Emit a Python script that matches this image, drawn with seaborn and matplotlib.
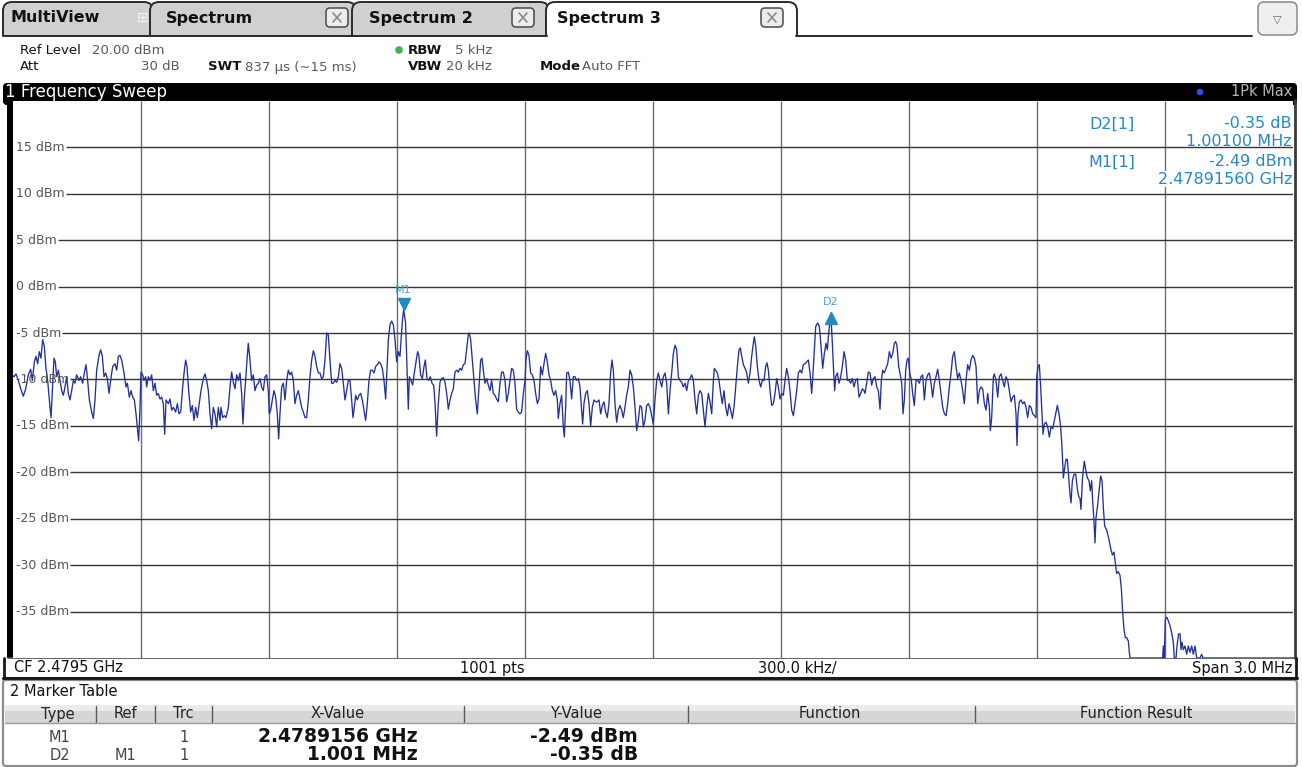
import matplotlib
matplotlib.use("Agg")
import matplotlib.pyplot as plt
import numpy as np
import pandas as pd
import seaborn as sns
from matplotlib.patches import FancyBboxPatch, Rectangle, Circle
from matplotlib.transforms import offset_copy
from matplotlib import font_manager as fm

# ---------------- data ----------------
# trace: (frequency offset from start in kHz, level in dBm), span 0..3000 kHz
seg_a = [(0.0,-9.6),(2.3,-9.7),(7.0,-9.4),(12.5,-10.1),(18.0,-11.0),(24.2,-11.8),(29.7,-11.0),(35.9,-9.5),(41.4,-8.9),(45.3,-10.1),(50.0,-8.1),(53.9,-7.5),(57.8,-8.3),(61.7,-7.0),(65.6,-7.7),(69.5,-5.7),(73.4,-6.4),(77.3,-8.8),(81.2,-10.1),(85.2,-12.2),(89.1,-14.1),(92.2,-11.2),(96.1,-7.7),(99.2,-8.1),(102.3,-9.7),(106.3,-9.0),(110.2,-10.1),(114.1,-11.2),(118.0,-11.7),(121.9,-10.8),(125.8,-9.7),(129.7,-11.5),(133.6,-12.2),(137.5,-11.2),(141.4,-10.1),(145.3,-10.4),(149.2,-9.5),(154.7,-10.1),(158.6,-9.7),(163.3,-10.4),(167.2,-9.3),(171.1,-8.4),(174.2,-9.7),(178.9,-12.2),(184.4,-13.5),(188.3,-14.2),(192.2,-12.2),(196.1,-9.0),(201.6,-7.4),(205.5,-6.8),(209.4,-7.5),(213.3,-9.7),(217.2,-9.3),(221.1,-9.9),(225.0,-11.5),(228.9,-10.1),(233.6,-8.6),(239.1,-8.3),(243.0,-9.0),(246.9,-7.5),(250.8,-7.4),(254.7,-7.9),(260.2,-9.3),(264.8,-10.8),(268.0,-10.4),(272.7,-11.9),(276.6,-11.2),(280.5,-11.9),(284.4,-12.2),(288.3,-13.7),(291.4,-15.1),(294.5,-16.6),(297.7,-13.0),(300.0,-9.2),(303.9,-9.5),(307.0,-10.1),(310.9,-9.7),(313.3,-10.8),(317.2,-9.7),(321.1,-10.1),(325.0,-9.5),(328.9,-11.2),(332.8,-10.4),(336.7,-11.7),(340.6,-11.5),(344.5,-12.1),(348.4,-11.9),(352.3,-12.6),(355.5,-15.9),(358.6,-12.2),(364.1,-12.6),(368.0,-12.1),(371.9,-13.3),(375.8,-13.0),(381.2,-13.5),(385.2,-12.6),(389.1,-13.7),(393.0,-13.5),(397.7,-10.8),(401.6,-9.0),(404.7,-7.9),(407.8,-8.6),(411.7,-11.2),(416.4,-13.5),(420.3,-12.8),(424.2,-14.4),(428.1,-13.0),(432.0,-14.1),(435.9,-12.8),(440.6,-11.2),(446.1,-9.9),(450.0,-9.4),(453.9,-10.1),(457.8,-11.2),(461.7,-13.7),(465.6,-15.3),(469.5,-13.0),(473.4,-13.7),(477.3,-15.1),(481.2,-13.0),(485.2,-14.4)]
seg_b = [(487.5,-13.0),(491.4,-14.1),(495.3,-13.9),(499.2,-14.1),(504.7,-13.0),(508.6,-10.8),(512.5,-9.2),(516.4,-10.3),(520.3,-11.0),(524.2,-9.5),(528.1,-10.1),(532.0,-9.3),(535.9,-11.5),(539.0,-14.8),(542.2,-11.9),(545.3,-10.1),(548.4,-7.9),(551.5,-6.1),(555.4,-7.9),(559.3,-10.1),(563.2,-9.5),(567.2,-11.2),(571.1,-10.6),(575.0,-10.4),(578.9,-9.9),(582.8,-10.8),(586.7,-11.2),(590.6,-9.7),(594.5,-9.5),(598.4,-11.2),(600.7,-13.7),(603.9,-13.3),(607.8,-12.2),(611.7,-11.2),(615.6,-11.9),(619.5,-13.7),(622.6,-16.4),(625.7,-13.7),(629.7,-10.8),(633.6,-10.4),(637.5,-12.2),(641.4,-10.1),(645.3,-9.0),(649.2,-9.5),(653.1,-9.2),(657.0,-10.1),(660.9,-12.6),(664.8,-11.7),(668.7,-11.2),(672.6,-12.1),(676.5,-13.0),(680.4,-13.5),(684.3,-14.1),(688.2,-14.1),(692.2,-12.2),(696.1,-9.7),(700.0,-7.9),(703.9,-6.9),(707.8,-7.5),(711.7,-8.6),(715.6,-9.3),(719.5,-9.3),(723.4,-9.9),(727.3,-9.7),(731.2,-7.9),(735.1,-5.0),(739.0,-5.2),(742.9,-7.9),(746.8,-10.4),(750.7,-10.4),(754.7,-10.1),(758.6,-10.3),(762.5,-9.7),(766.4,-8.3),(770.3,-8.8),(774.2,-10.4),(778.1,-12.2),(782.0,-11.2),(785.9,-10.1),(789.8,-10.1),(793.7,-12.2),(796.8,-14.1),(800.0,-13.0),(803.1,-11.7),(807.0,-12.2),(810.9,-11.7),(814.8,-11.5),(818.7,-12.2),(822.6,-13.3),(826.5,-14.4),(830.4,-12.6),(834.3,-10.1),(838.2,-9.0),(842.2,-9.0),(846.1,-9.3),(850.0,-8.6),(853.9,-8.4),(857.8,-8.1),(861.7,-8.3),(865.6,-8.8),(869.5,-10.1),(873.4,-12.1),(876.5,-9.0),(879.7,-5.7),(883.6,-4.1),(887.5,-3.7),(891.4,-4.1),(895.3,-5.7),(899.2,-8.1),(903.1,-7.0),(907.0,-7.5),(910.9,-4.8),(913.6,-3.2),(915.6,-2.49),(920.1,-3.9),(923.7,-9.0),(926.5,-13.2),(928.9,-9.7),(932.8,-10.1),(936.7,-10.6),(940.6,-9.3),(944.5,-8.1),(948.4,-7.0),(951.5,-7.5),(955.4,-9.5),(959.3,-9.9),(963.3,-8.6),(966.4,-7.9),(970.3,-9.9),(974.2,-10.1),(978.1,-9.7),(982.0,-10.4),(985.9,-10.6),(989.0,-12.4)]
seg_c = [(992.9,-16.1),(996.8,-12.6),(1000.7,-10.3),(1004.6,-9.9),(1008.5,-9.8),(1012.5,-10.3),(1016.4,-11.5),(1020.3,-13.2),(1024.2,-12.2),(1028.1,-11.5),(1032.0,-11.0),(1035.9,-9.2),(1039.8,-9.0),(1043.7,-9.2),(1047.6,-8.8),(1051.5,-9.0),(1055.4,-8.4),(1059.3,-8.3),(1063.2,-6.8),(1067.1,-5.2),(1069.5,-5.0),(1072.6,-5.7),(1076.5,-7.9),(1080.4,-10.1),(1084.3,-12.2),(1088.2,-13.7),(1092.1,-10.8),(1096.1,-7.9),(1099.2,-7.7),(1102.3,-9.0),(1106.2,-10.4),(1110.1,-9.9),(1114.0,-10.6),(1117.9,-11.2),(1121.8,-10.1),(1125.7,-11.5),(1129.6,-11.7),(1133.5,-12.1),(1137.5,-12.4),(1141.4,-10.4),(1145.3,-9.2),(1149.2,-9.2),(1153.1,-10.1),(1157.0,-12.4),(1160.9,-11.5),(1164.8,-10.1),(1168.7,-8.8),(1172.6,-9.0),(1176.5,-10.4),(1180.4,-13.2),(1184.3,-13.5),(1188.2,-13.7),(1192.1,-13.5),(1196.1,-11.5),(1200.0,-10.1),(1202.3,-7.9),(1205.4,-6.9),(1209.3,-7.4),(1213.2,-9.3),(1217.1,-9.5),(1221.1,-10.1),(1225.0,-11.5),(1228.9,-12.6),(1232.8,-12.1),(1236.7,-8.6),(1240.6,-9.5),(1244.5,-8.3),(1248.4,-7.2),(1252.3,-8.1),(1256.2,-9.5),(1260.1,-10.1),(1264.0,-11.2),(1267.9,-11.7),(1271.8,-11.2),(1275.7,-12.2),(1278.1,-14.2),(1282.0,-12.6),(1285.9,-11.7),(1289.8,-15.1),(1292.2,-16.2),(1295.3,-13.0),(1297.6,-9.3),(1301.5,-9.2),(1305.4,-10.1),(1309.3,-12.1),(1313.2,-9.7),(1317.1,-9.7),(1321.0,-10.1),(1324.9,-9.9),(1328.9,-10.8),(1332.8,-13.3),(1335.1,-14.8),(1338.2,-12.6),(1342.1,-11.5),(1346.0,-11.2),(1349.9,-12.6),(1353.9,-15.0),(1357.8,-13.0),(1361.7,-12.2),(1365.6,-12.4),(1369.5,-12.4),(1373.4,-12.2),(1377.3,-13.7),(1381.2,-12.8),(1385.1,-12.4),(1389.0,-13.5),(1392.9,-14.1),(1396.8,-12.6),(1400.7,-9.3),(1403.9,-7.9),(1407.0,-9.0),(1410.9,-12.6),(1414.8,-14.6),(1418.7,-13.3),(1422.6,-12.8),(1426.5,-13.3),(1430.4,-14.1),(1434.3,-13.0),(1438.2,-11.7),(1442.1,-10.8),(1446.1,-9.0),(1450.0,-9.5),(1453.9,-10.8),(1457.8,-13.0),(1461.7,-15.5),(1465.6,-14.4),(1469.5,-12.8),(1473.4,-13.0),(1477.3,-15.1),(1481.2,-14.4),(1485.1,-12.8),(1489.0,-12.6),(1492.9,-13.0)]
seg_d = [(1496.9,-13.9),(1500.8,-14.8),(1504.7,-12.2),(1508.6,-10.1),(1512.5,-9.3),(1516.4,-10.1),(1520.4,-10.8),(1524.3,-9.7),(1528.2,-9.3),(1532.1,-10.4),(1536.0,-13.7),(1539.9,-11.2),(1543.8,-9.3),(1547.7,-7.2),(1551.6,-6.3),(1555.5,-6.8),(1559.4,-9.7),(1563.3,-10.1),(1567.2,-10.3),(1571.1,-10.8),(1575.1,-10.4),(1579.0,-11.2),(1582.9,-10.1),(1586.8,-9.9),(1590.7,-9.5),(1594.6,-10.1),(1598.5,-12.2),(1602.4,-13.7),(1606.3,-11.7),(1610.2,-11.2),(1614.1,-11.5),(1618.0,-13.3),(1621.9,-15.1),(1625.8,-13.0),(1629.7,-11.5),(1633.6,-12.4),(1637.6,-13.7),(1641.5,-10.1),(1643.8,-8.8),(1646.9,-9.0),(1650.8,-9.3),(1654.7,-10.1),(1658.6,-11.5),(1662.5,-12.6),(1666.5,-11.2),(1670.4,-13.0),(1674.3,-13.9),(1678.2,-12.6),(1682.1,-13.3),(1686.0,-14.2),(1689.9,-13.0),(1693.8,-10.8),(1697.7,-8.6),(1701.6,-6.8),(1704.7,-6.6),(1707.9,-7.5),(1711.8,-8.4),(1715.7,-8.8),(1719.6,-9.3),(1723.5,-10.4),(1727.4,-9.3),(1731.3,-7.5),(1735.2,-6.1),(1737.5,-5.4),(1740.7,-6.4),(1744.6,-8.6),(1748.5,-10.1),(1752.4,-10.8),(1756.3,-10.1),(1760.2,-10.1),(1764.1,-8.6),(1767.2,-8.2),(1770.4,-9.0),(1774.3,-11.2),(1778.2,-12.8),(1782.1,-12.6),(1786.0,-11.5),(1789.9,-9.9),(1793.8,-10.8),(1797.7,-12.1),(1801.6,-11.5),(1805.5,-11.7),(1809.4,-10.1),(1813.3,-8.8),(1817.2,-9.7),(1821.1,-11.2),(1825.1,-13.3),(1829.0,-13.9),(1832.9,-12.6),(1836.8,-11.2),(1840.7,-9.3),(1844.6,-9.0),(1848.5,-9.3),(1852.4,-8.4),(1856.3,-8.3),(1860.2,-8.1),(1864.1,-7.9),(1868.0,-9.3),(1871.9,-11.5),(1874.3,-9.9),(1877.4,-7.5),(1881.3,-4.3),(1886.0,-3.9),(1889.9,-4.3),(1893.8,-6.4),(1897.7,-8.8),(1901.6,-7.2),(1905.5,-6.1),(1908.6,-6.8),(1911.8,-5.0),(1914.9,-3.7),(1916.6,-2.84),(1920.4,-6.1),(1923.5,-9.3),(1925.8,-11.2),(1928.2,-9.7),(1932.1,-9.3),(1936.0,-10.4),(1939.9,-9.7),(1943.8,-8.6),(1947.7,-7.0),(1951.6,-7.9),(1955.5,-10.1),(1959.4,-10.1),(1963.3,-10.4),(1967.2,-9.9),(1971.1,-10.8),(1975.0,-10.1),(1978.9,-9.9),(1982.9,-11.9),(1986.8,-11.5),(1990.7,-11.0),(1994.6,-11.2),(1996.9,-11.5)]
seg_e = [(2000.8,-10.4),(2004.7,-9.2),(2008.6,-9.3),(2012.5,-10.6),(2016.5,-9.9),(2020.4,-9.7),(2024.3,-10.8),(2028.2,-11.2),(2032.1,-13.2),(2035.2,-10.1),(2038.3,-9.0),(2042.2,-9.3),(2046.1,-8.8),(2050.0,-8.3),(2054.0,-7.0),(2057.9,-7.7),(2061.8,-7.2),(2065.7,-6.1),(2068.8,-5.9),(2071.9,-6.4),(2075.8,-8.6),(2079.7,-9.5),(2082.9,-10.4),(2086.0,-13.7),(2089.1,-12.2),(2092.2,-9.0),(2095.4,-7.9),(2098.5,-7.7),(2101.6,-9.2),(2105.5,-10.1),(2108.6,-11.5),(2112.5,-12.8),(2116.5,-10.1),(2120.4,-10.1),(2124.3,-10.4),(2128.2,-9.7),(2132.1,-9.5),(2136.0,-12.2),(2139.9,-10.1),(2143.8,-9.5),(2147.7,-9.3),(2151.6,-10.4),(2155.5,-11.9),(2159.4,-10.4),(2163.3,-9.7),(2167.2,-8.9),(2171.1,-10.1),(2175.0,-11.5),(2179.0,-13.0),(2182.9,-13.7),(2186.8,-13.9),(2190.7,-12.6),(2194.6,-10.8),(2198.5,-9.3),(2202.4,-7.5),(2206.3,-7.0),(2210.2,-8.6),(2214.1,-9.9),(2218.0,-9.3),(2221.9,-10.1),(2225.8,-11.2),(2229.7,-12.6),(2233.6,-10.1),(2237.5,-8.4),(2241.5,-9.0),(2245.4,-7.9),(2249.3,-7.4),(2253.2,-7.7),(2257.1,-8.6),(2261.0,-12.6),(2264.9,-11.2),(2268.8,-10.8),(2272.7,-11.0),(2276.6,-12.6),(2280.5,-13.3),(2284.4,-11.5),(2288.3,-13.0),(2290.7,-15.5),(2293.8,-14.1),(2297.7,-9.7),(2300.0,-9.4),(2303.9,-10.1),(2307.9,-11.9),(2311.8,-9.7),(2315.7,-9.4),(2319.6,-10.1),(2323.5,-10.8),(2327.4,-9.7),(2331.3,-10.1),(2335.2,-11.2),(2339.1,-12.4),(2343.0,-11.9),(2346.9,-11.7),(2350.8,-13.7),(2353.2,-17.1),(2355.5,-13.7),(2358.6,-12.4),(2362.5,-12.2),(2366.5,-12.6),(2370.4,-12.4),(2374.3,-13.0),(2378.2,-14.1),(2382.1,-12.8),(2386.0,-13.0),(2389.9,-13.7),(2393.8,-13.9),(2397.7,-14.1),(2399.3,-9.7),(2402.4,-8.6),(2405.5,-8.4),(2408.6,-10.8),(2411.8,-13.7),(2414.1,-15.9),(2417.2,-14.8),(2421.1,-14.6),(2425.0,-15.1),(2429.0,-16.2),(2432.9,-15.1),(2436.8,-15.3),(2440.7,-14.4),(2444.6,-13.5),(2447.7,-12.8),(2451.6,-13.7),(2455.5,-15.1),(2458.6,-17.3),(2461.8,-20.6),(2464.9,-19.5),(2468.0,-18.6),(2471.1,-18.6),(2474.3,-20.6),(2477.4,-22.4),(2479.7,-23.3),(2482.9,-20.9),(2486.8,-20.2),(2490.7,-20.2),(2494.6,-21.8),(2497.7,-22.6),(2500.8,-22.8)]
seg_f = [(2503.1,-24.0),(2506.3,-20.9),(2508.6,-19.7),(2510.9,-18.8),(2514.1,-19.7),(2518.0,-20.6),(2521.9,-20.9),(2525.0,-22.0),(2528.1,-20.9),(2530.5,-23.1),(2533.6,-25.3),(2535.9,-27.6),(2538.3,-24.9),(2542.2,-23.5),(2546.1,-21.7),(2549.2,-20.4),(2552.4,-20.9),(2555.5,-23.8),(2558.6,-25.8),(2563.3,-26.2),(2568.0,-27.1),(2572.7,-28.2),(2576.6,-28.9),(2580.5,-28.6),(2583.6,-29.8),(2586.7,-30.9),(2590.6,-30.7),(2594.5,-31.1),(2597.7,-32.5),(2600.8,-35.1),(2603.9,-36.9),(2607.0,-37.8),(2610.2,-37.8),(2614.1,-38.2),(2616.4,-39.4),(2618.0,-40.0),(2694.5,-40.0),(2696.1,-38.7),(2698.4,-40.0),(2700.8,-35.8),(2703.9,-35.6),(2707.8,-36.0),(2711.7,-36.5),(2715.6,-37.3),(2719.5,-38.3),(2721.9,-40.0),(2725.8,-40.0),(2728.1,-38.7),(2732.0,-37.4),(2735.2,-37.4),(2737.5,-39.1),(2739.8,-38.3),(2743.0,-39.1),(2746.9,-38.7),(2750.8,-39.6),(2754.7,-38.7),(2758.6,-39.4),(2762.5,-38.7),(2766.4,-39.6),(2770.3,-38.7),(2774.2,-40.0),(2782.0,-40.0),(2785.9,-39.6),(2789.1,-40.0),(3000.0,-40.0)]

grid_levels = [15, 10, 5, 0, -5, -10, -15, -20, -25, -30, -35]
grid_freqs = [300, 600, 900, 1200, 1500, 1800, 2100, 2400, 2700]
span_khz = (0, 3000)
level_range = (-40, 20)

marker_names = ["M1", "D2"]
marker_freq = [915.6, 1916.6]
marker_level = [-2.49, -2.84]

tab_labels = ["MultiView", "Spectrum", "Spectrum 2", "Spectrum 3"]
table_headers = ["Type", "Ref", "Trc", "X-Value", "Y-Value", "Function", "Function Result"]
table_rows = [["M1", "", "1", "2.4789156 GHz", "-2.49 dBm"],
              ["D2", "M1", "1", "1.001 MHz", "-0.35 dB"]]

# ---------------- style ----------------
sns.set_style("white")
names = {f.name for f in fm.fontManager.ttflist}
NARROW = "Liberation Sans Narrow" if "Liberation Sans Narrow" in names else "DejaVu Sans"
plt.rcParams["font.family"] = ["DejaVu Sans"]

TRACE = "#22309a"
MBLUE = "#2389c6"
GRAYTXT = "#5a5a5a"

W, H = 1302, 767
fig = plt.figure(figsize=(W / 100, H / 100), dpi=100)
fig.patch.set_facecolor("white")

bg = fig.add_axes([0, 0, 1, 1], zorder=0)
bg.set_xlim(0, W); bg.set_ylim(H, 0); bg.axis("off")

PL, PR, PT, PB = 13, 1293, 101, 658
ax = fig.add_axes([PL / W, 1 - PB / H, (PR - PL) / W, (PB - PT) / H], zorder=1)

ov = fig.add_axes([0, 0, 1, 1], zorder=3)
ov.set_xlim(0, W); ov.set_ylim(H, 0); ov.axis("off"); ov.patch.set_alpha(0)

# ---------------- tab bar ----------------
tabs = [(3, 153, "#d0d0d0"), (150, 356, "#d0d0d0"), (352, 549, "#d0d0d0"), (546, 797, "white")]
for (x0, x1, fc) in tabs:
    bg.add_patch(FancyBboxPatch((x0, 2), x1 - x0, 44, boxstyle="round,pad=0,rounding_size=9",
                                fc=fc, ec="#2a2a2a", lw=1.4))
bg.add_patch(Rectangle((0, 36), W, 12, fc="white", ec="none", zorder=3))
bg.plot([3, 547], [35.5, 35.5], color="#2a2a2a", lw=1.4, zorder=4)
bg.plot([796, 1252], [35.5, 35.5], color="#2a2a2a", lw=1.4, zorder=4)
tab_x = [10, 166, 369, 557]
for lbl, tx in zip(tab_labels, tab_x):
    bg.text(tx, 18, lbl, fontsize=11.5, fontweight="bold", va="center", ha="left", color="#111111")
bg.text(143, 18, "\u229e", fontsize=10, color="#f4f4f4", va="center", ha="center")
for cx in [326, 512, 761]:
    bg.add_patch(FancyBboxPatch((cx, 8), 22, 19, boxstyle="round,pad=0,rounding_size=4",
                                fc="#ececec", ec="#4a4a4a", lw=1.1))
    bg.plot([cx + 7, cx + 15], [13, 22], color="#8a8a8a", lw=1.2)
    bg.plot([cx + 15, cx + 7], [13, 22], color="#8a8a8a", lw=1.2)
bg.add_patch(FancyBboxPatch((1258, 2), 39, 33, boxstyle="round,pad=0,rounding_size=6",
                            fc="#efefef", ec="#8a8a8a", lw=1.1))
bg.text(1277.5, 19, "\u25bd", fontsize=8, color="#6a6a6a", va="center", ha="center")

# ---------------- settings header ----------------
hs = 9.5
bg.text(20, 50, "Ref Level", fontsize=hs, color="#111111", va="center")
bg.text(92, 50, "20.00 dBm", fontsize=hs, color=GRAYTXT, va="center")
bg.text(20, 67, "Att", fontsize=hs, color="#111111", va="center")
bg.text(180, 67, "30 dB", fontsize=hs, color=GRAYTXT, va="center", ha="right")
bg.text(208, 67, "SWT", fontsize=hs, fontweight="bold", color="#111111", va="center")
bg.text(245, 67, "837 \u00b5s (\u223c15 ms)", fontsize=hs, color=GRAYTXT, va="center")
bg.add_patch(Circle((399, 50), 3.8, fc="#3db54a", ec="none", zorder=6))
bg.text(408, 50, "RBW", fontsize=hs, fontweight="bold", color="#111111", va="center")
bg.text(455, 50, "5 kHz", fontsize=hs, color=GRAYTXT, va="center")
bg.text(408, 67, "VBW", fontsize=hs, fontweight="bold", color="#111111", va="center")
bg.text(446, 67, "20 kHz", fontsize=hs, color=GRAYTXT, va="center")
bg.text(540, 67, "Mode", fontsize=hs, fontweight="bold", color="#111111", va="center")
bg.text(582, 67, "Auto FFT", fontsize=hs, color=GRAYTXT, va="center")

# ---------------- window title bar ----------------
bg.add_patch(FancyBboxPatch((3, 83), 1294, 22, boxstyle="round,pad=0,rounding_size=4", fc="black", ec="none"))
bg.add_patch(Rectangle((7, 99), 6, PB - 99, fc="black", ec="none"))
bg.plot([1295, 1295], [100, PB], color="#3a3a3a", lw=2)
bg.text(5, 92, "1 Frequency Sweep", fontsize=12, color="white", va="center", ha="left")
bg.add_patch(Circle((1200, 92), 3.2, fc="#2e4cff", ec="none", zorder=5))
bg.text(1292, 92, "1Pk Max", fontsize=10.5, color="#b4b4b4", va="center", ha="right", zorder=5)

# ---------------- spectrum trace ----------------
trace = pd.DataFrame(seg_a + seg_b + seg_c + seg_d + seg_e + seg_f, columns=["freq_khz", "level_dbm"])
sns.lineplot(data=trace, x="freq_khz", y="level_dbm", ax=ax, color=TRACE, lw=0.95,
             estimator=None, sort=False, zorder=4)
ax.set_xlim(*span_khz)
ax.set_ylim(*level_range)
ax.set_xticks([]); ax.set_yticks([])
ax.set_xlabel(""); ax.set_ylabel("")
for s in ax.spines.values():
    s.set_visible(False)
ax.set_facecolor("white")
ax.vlines(grid_freqs, level_range[0], level_range[1], color="#6e6e6e", lw=1.0, zorder=1)

labels = []
for lv in grid_levels:
    t = ax.annotate(f"{lv} dBm", xy=(0, lv), xycoords=("axes fraction", "data"),
                    xytext=(3, 0), textcoords="offset pixels", fontsize=9,
                    color="#555555", va="center", ha="left", zorder=5)
    labels.append(t)
fig.canvas.draw()
rend = fig.canvas.get_renderer()
inv = ax.transData.inverted()
for lv, t in zip(grid_levels, labels):
    bb = t.get_window_extent(rend)
    x0 = inv.transform((bb.x1 + 1, 0))[0]
    ax.hlines(lv, x0, span_khz[1], color="#353535", lw=1.0, zorder=2)

# markers
m_off = [6, -5]
m_sym = ["v", "^"]
m_lab = [20, 11]
for name, f, lv, off, sym, lo in zip(marker_names, marker_freq, marker_level, m_off, m_sym, m_lab):
    tr = offset_copy(ax.transData, fig=fig, x=0, y=off, units="dots")
    ax.plot([f], [lv], marker=sym, ms=8, color=MBLUE, mec=MBLUE, transform=tr, zorder=6, clip_on=False)
    ax.annotate(name, xy=(f, lv), xytext=(0, lo), textcoords="offset pixels", ha="center",
                va="center", fontsize=8, color="#4aa3d6", zorder=6)

# marker info (top right)
ms_ = 11.5
ov.text(1112, 124, "D2[1]", fontsize=ms_, color=MBLUE, ha="center", va="center")
ov.text(1292, 124, "-0.35 dB", fontsize=ms_, color=MBLUE, ha="right", va="center")
ov.text(1292, 141, "1.00100 MHz", fontsize=ms_, color=MBLUE, ha="right", va="center")
ov.text(1112, 162, "M1[1]", fontsize=ms_, color=MBLUE, ha="center", va="center")
ov.text(1292, 162, "-2.49 dBm", fontsize=ms_, color=MBLUE, ha="right", va="center")
ov.text(1292, 179, "2.47891560 GHz", fontsize=ms_, color=MBLUE, ha="right", va="center",
        bbox=dict(fc="white", ec="none", pad=0.3))

# ---------------- footer (CF / span row) ----------------
bg.add_patch(Rectangle((8, PB), 1289, 19, fc="white", ec="none"))
bg.plot([8, 1297], [PB, PB], color="#4a4a4a", lw=1.2)
bg.plot([3, 1297], [677.5, 677.5], color="#1a1a1a", lw=2.2)
bg.plot([4, 4], [PB, 677], color="#1a1a1a", lw=2)
bg.plot([1296, 1296], [PB, 677], color="#1a1a1a", lw=2)
fs = 10.5
bg.text(14, 668, "CF 2.4795 GHz", fontsize=fs, family=NARROW, color="#111111", va="center")
bg.text(492, 668, "1001 pts", fontsize=fs, family=NARROW, color="#111111", va="center", ha="center")
bg.text(797, 668, "300.0 kHz/", fontsize=fs, family=NARROW, color="#111111", va="center", ha="center")
bg.text(1292, 668, "Span 3.0 MHz", fontsize=fs, family=NARROW, color="#111111", va="center", ha="right")

# ---------------- marker table ----------------
bg.add_patch(FancyBboxPatch((3, 680), 1294, 86, boxstyle="round,pad=0,rounding_size=3",
                            fc="white", ec="#8c8c8c", lw=1.6))
bg.text(10, 692, "2 Marker Table", fontsize=fs, family=NARROW, color="#111111", va="center")
bg.add_patch(Rectangle((5, 705), 1290, 18, fc="#d6d6d6", ec="none"))
bg.add_patch(Rectangle((5, 705), 1290, 6, fc="#ebebeb", ec="none"))
bg.plot([5, 1295], [723, 723], color="#9a9a9a", lw=1)
for sx in [96, 155, 212, 464, 688, 975]:
    bg.plot([sx, sx], [706, 722], color="#5a5a5a", lw=1)
hdr_x = [58, 125, 183, 338, 576, 830, 1136]
for h, hx in zip(table_headers, hdr_x):
    bg.text(hx, 714, h, fontsize=fs, family=NARROW, color="#222222", ha="center", va="center")
row_y = [737, 755]
for row, ry in zip(table_rows, row_y):
    bg.text(60, ry, row[0], fontsize=fs, family=NARROW, color="#444444", ha="center", va="center")
    bg.text(126, ry, row[1], fontsize=fs, family=NARROW, color="#444444", ha="center", va="center")
    bg.text(184, ry, row[2], fontsize=fs, family=NARROW, color="#444444", ha="center", va="center")
    bg.text(418, ry - 1, row[3], fontsize=13.5, fontweight="bold", color="#111111", ha="right", va="center")
    bg.text(638, ry - 1, row[4], fontsize=13.5, fontweight="bold", color="#111111", ha="right", va="center")

fig.savefig("out.png", dpi=100, facecolor="white")
